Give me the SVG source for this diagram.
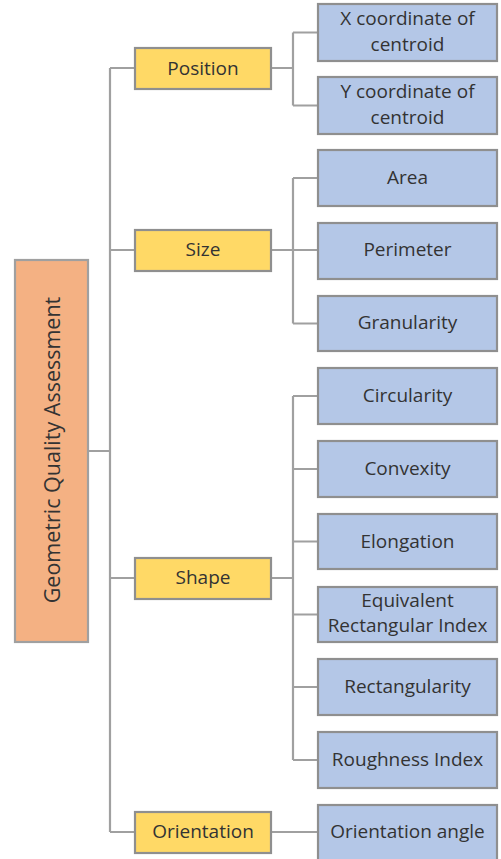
<svg xmlns="http://www.w3.org/2000/svg" width="501" height="859" viewBox="0 0 501 859">
<style>
.ln{fill:none;stroke:#a0a0a0;stroke-width:2.2}
.root{fill:#f4b183;stroke:#a0a0a0;stroke-width:2.2}
.cat{fill:#ffd966;stroke:#8f8f8f;stroke-width:2.2}
.leaf{fill:#b4c7e7;stroke:#8f8f8f;stroke-width:2.2}
text{font-family:"Open Sans","Noto Sans","Liberation Sans",sans-serif;font-size:19px;fill:#333;text-anchor:middle;dominant-baseline:central}
</style>
<rect width="501" height="859" fill="#fff"/>
<g id="connectors">
<path class="ln" d="M88 451H110M110 68V832M110 68H135M110 250H135M110 578H135M110 832H135"/>
<path class="ln" d="M271 68H293M293 32.5V105.5M293 32.5H318M293 105.5H318"/>
<path class="ln" d="M271 250H318M293 178V323.5M293 178H318M293 323.5H318"/>
<path class="ln" d="M271 578H293M293 396V760M293 396H318M293 469H318M293 541.5H318M293 614.5H318M293 687H318M293 760H318"/>
<path class="ln" d="M270 832H318"/>
</g>
<g id="root"><rect class="root" x="15" y="260" width="73" height="382"/><text transform="translate(51 450) rotate(-90)" style="font-size:21.5px">Geometric Quality Assessment</text></g>
<g id="position"><rect class="cat" x="135" y="48" width="136" height="41"/><text x="203" y="68">Position</text></g>
<g id="size"><rect class="cat" x="135" y="230" width="136" height="41"/><text x="203" y="249">Size</text></g>
<g id="shape"><rect class="cat" x="135" y="558" width="136" height="41"/><text x="203" y="577">Shape</text></g>
<g id="orientation"><rect class="cat" x="135" y="812" width="136" height="41"/><text x="203" y="831">Orientation</text></g>
<g id="xcoord"><rect class="leaf" x="318" y="4" width="179" height="57"/><text x="407.5" y="18">X coordinate of</text><text x="407.5" y="44">centroid</text></g>
<g id="ycoord"><rect class="leaf" x="318" y="77" width="179" height="57"/><text x="407.5" y="91">Y coordinate of</text><text x="407.5" y="117">centroid</text></g>
<g id="area"><rect class="leaf" x="318" y="150" width="179" height="56"/><text x="407.5" y="177">Area</text></g>
<g id="perimeter"><rect class="leaf" x="318" y="223" width="179" height="56"/><text x="407.5" y="249">Perimeter</text></g>
<g id="granularity"><rect class="leaf" x="318" y="296" width="179" height="55"/><text x="407.5" y="322">Granularity</text></g>
<g id="circularity"><rect class="leaf" x="318" y="368" width="179" height="56"/><text x="407.5" y="395">Circularity</text></g>
<g id="convexity"><rect class="leaf" x="318" y="441" width="179" height="56"/><text x="407.5" y="468">Convexity</text></g>
<g id="elongation"><rect class="leaf" x="318" y="514" width="179" height="55"/><text x="407.5" y="540.5">Elongation</text></g>
<g id="eri"><rect class="leaf" x="318" y="587" width="179" height="55"/><text x="407.5" y="600">Equivalent</text><text x="407.5" y="625">Rectangular Index</text></g>
<g id="rectangularity"><rect class="leaf" x="318" y="659" width="179" height="56"/><text x="407.5" y="686">Rectangularity</text></g>
<g id="roughness"><rect class="leaf" x="318" y="732" width="179" height="56"/><text x="407.5" y="759">Roughness Index</text></g>
<g id="orientangle"><rect class="leaf" x="318" y="805" width="179" height="56"/><text x="407.5" y="831">Orientation angle</text></g>
</svg>
